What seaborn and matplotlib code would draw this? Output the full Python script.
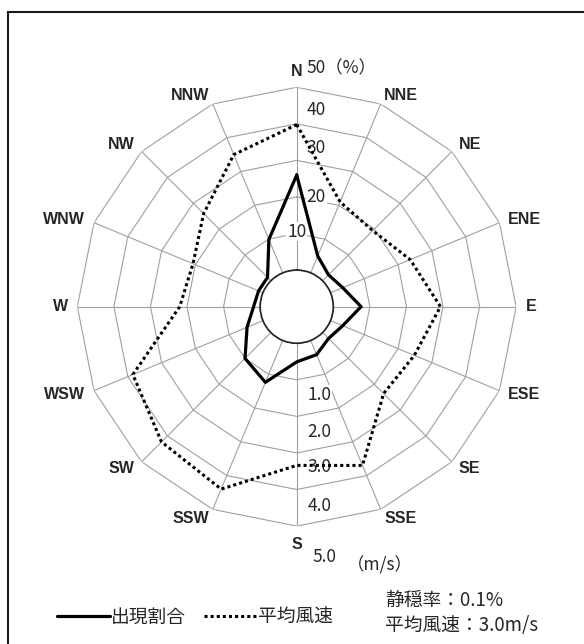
import numpy as np
import pandas as pd
import seaborn as sns
import matplotlib.pyplot as plt
from matplotlib.lines import Line2D

# Wind rose data (16 directions, clockwise from N)
directions = ['N', 'NNE', 'NE', 'ENE', 'E', 'ESE', 'SE', 'SSE',
              'S', 'SSW', 'SW', 'WSW', 'W', 'WNW', 'NW', 'NNW']
freq_pct = [26.0, 5.0, 2.3, 3.6, 7.6, 3.6, 2.3, 4.2,
            5.1, 12.4, 10.0, 4.7, 1.8, 1.3, 1.3, 9.9]
speed_ms = [3.98, 2.1, 1.94, 2.36, 2.93, 2.48, 2.36, 3.7,
            3.34, 4.4, 4.23, 3.85, 2.2, 2.07, 2.6, 3.5]
pct_ticks = [10, 20, 30, 40, 50]
ms_ticks = ['1.0', '2.0', '3.0', '4.0', '5.0']
legend_labels = ['出現割合', '平均風速']
stats_lines = ['静穏率：0.1%', '平均風速：3.0m/s']

sns.set_theme(style='white')
plt.rcParams['font.family'] = ['Noto Sans CJK JP', 'DejaVu Sans']

theta = np.arange(len(directions)) * 2 * np.pi / len(directions)
theta_closed = np.append(theta, 2 * np.pi)

df = pd.DataFrame({
    'theta': np.concatenate([theta_closed, theta_closed]),
    'r': np.concatenate([np.append(freq_pct, freq_pct[0]),
                         np.append(speed_ms, speed_ms[0]) * 10]),
    'series': [legend_labels[0]] * len(theta_closed) + [legend_labels[1]] * len(theta_closed),
})

fig = plt.figure(figsize=(5.84, 6.44), dpi=100)
ax = fig.add_axes([0.1324, 0.1831, 0.7514, 0.6814], projection='polar')
ax.set_theta_zero_location('N')
ax.set_theta_direction(-1)
ax.set_rorigin(-10)
ax.grid(False)
for sp in ax.spines.values():
    sp.set_visible(False)

# polygon grid
grid_kw = dict(color='#a0a0a0', lw=0.8, zorder=1)
for v in pct_ticks:
    ax.plot(theta_closed, [v] * len(theta_closed), **grid_kw)
for t in theta:
    ax.plot([t, t], [0, 50], **grid_kw)
circ = np.linspace(0, 2 * np.pi, 200)
ax.plot(circ, np.zeros_like(circ), **grid_kw)

# data lines
sns.lineplot(data=df[df['series'] == legend_labels[0]], x='theta', y='r', ax=ax,
             sort=False, estimator=None, color='black', lw=2.3, zorder=4)
sns.lineplot(data=df[df['series'] == legend_labels[1]], x='theta', y='r', ax=ax,
             sort=False, estimator=None, color='black', lw=2.2,
             linestyle=(0, (1, 1)), zorder=4)
ax.set_xlabel('')
ax.set_ylabel('')
ax.set_xticks([])
ax.set_yticks([])
ax.set_ylim(0, 50)

# direction labels
for t, name in zip(theta, directions):
    deg = np.degrees(t)
    if deg == 0:
        ax.text(t, 53.2, name, ha='center', va='baseline', fontsize=11.5,
                fontweight='bold', family='Liberation Sans')
    elif deg == 180:
        ax.text(t, 53.0, name, ha='center', va='top', fontsize=11.5,
                fontweight='bold', family='Liberation Sans')
    else:
        ax.text(t, 52.6, name, ha='left' if deg < 180 else 'right', va='center',
                fontsize=11.5, fontweight='bold', family='Liberation Sans')

# radial labels (%) along N
bbox = dict(facecolor='white', edgecolor='none', pad=0.5)
pct_offsets = [(0, 2), (10, 0), (10, 12), (10, 14), (10, 19)]
for v, off in zip(pct_ticks, pct_offsets):
    txt = str(v) if v != 50 else '50（%）'
    ax.annotate(txt, xy=(0, v), xytext=off, textcoords='offset pixels',
                ha='center' if off[0] == 0 else 'left', va='center',
                fontsize=12.5, bbox=bbox, zorder=2)

# radial labels (m/s) along S
ms_offsets = [(11, -15), (11, -15.5), (11, -14), (11, -16), (16, -31)]
for v, lab, off in zip(pct_ticks, ms_ticks, ms_offsets):
    ax.annotate(lab, xy=(np.pi, v), xytext=off, textcoords='offset pixels',
                ha='left', va='center', fontsize=12.5, bbox=bbox, zorder=2)
ax.annotate('（m/s）', xy=(np.pi, 50), xytext=(50, -39), textcoords='offset pixels',
            ha='left', va='center', fontsize=12.5, zorder=2)

# legend
handles = [Line2D([], [], color='black', lw=2.3),
           Line2D([], [], color='black', lw=2.2, linestyle=(0, (1, 1)))]
fig.legend(handles, legend_labels, loc='center', bbox_to_anchor=(0.334, 1 - 617 / 644),
           ncol=2, frameon=False, fontsize=13.5, handlelength=2.8,
           handletextpad=0.05, columnspacing=1.0, borderpad=0)

# stats text
fig.text(385 / 584, 1 - 600 / 644, stats_lines[0], ha='left', va='center', fontsize=13.5)
fig.text(385 / 584, 1 - 625 / 644, stats_lines[1], ha='left', va='center', fontsize=13.5)

# outer frame
fig.add_artist(plt.Rectangle((8.3 / 584, -0.1), 1.0, 1.1 - 12.3 / 644,
                             transform=fig.transFigure, fill=False,
                             ec='#1a1a1a', lw=1.5))

fig.savefig('out.png', dpi=100)
